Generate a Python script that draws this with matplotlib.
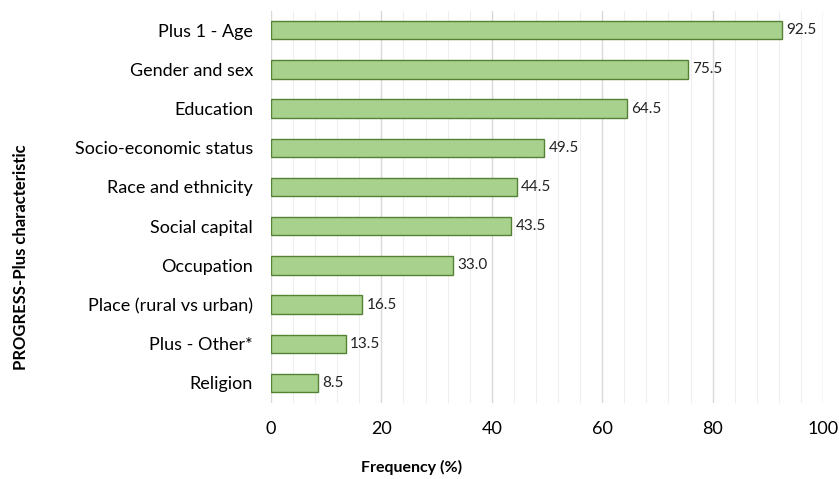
import matplotlib
matplotlib.use("Agg")
import matplotlib.pyplot as plt
from matplotlib.ticker import MultipleLocator

categories = ["Plus 1 - Age", "Gender and sex", "Education", "Socio-economic status",
              "Race and ethnicity", "Social capital", "Occupation",
              "Place (rural vs urban)", "Plus - Other*", "Religion"]
values = [92.5, 75.5, 64.5, 49.5, 44.5, 43.5, 33.0, 16.5, 13.5, 8.5]

plt.rcParams['font.family'] = ['Lato', 'DejaVu Sans']

fig = plt.figure(figsize=(8.39, 4.79), dpi=100)
ax = fig.add_axes([0.323, 0.1595, 0.658, 0.8185])

pos = list(range(len(categories)))
ax.barh(pos, values, height=0.47, color="#A9D18E", edgecolor="#548235", linewidth=1, zorder=3)
for p, v in zip(pos, values):
    ax.text(v + 0.8, p, f"{v:.1f}", va="center", ha="left", fontsize=11, color="#222222")

ax.set_ylim(len(categories) - 0.5, -0.5)
ax.set_yticks(pos)
ax.set_yticklabels(categories, fontsize=13)
ax.set_xlim(0, 100)
ax.xaxis.set_major_locator(MultipleLocator(20))
ax.xaxis.set_minor_locator(MultipleLocator(4))
ax.tick_params(axis="x", labelsize=13, length=0, pad=13, which="both")
ax.tick_params(axis="y", length=0, pad=13)
ax.grid(axis="x", which="major", color="#D9D9D9", linewidth=1, zorder=0)
ax.grid(axis="x", which="minor", color="#EEEEEE", linewidth=0.8, zorder=0)
for s in ax.spines.values():
    s.set_visible(False)

fig.text(0.491, 0.025, "Frequency (%)", fontsize=11.5, fontweight="bold",
         va="center", ha="center")
fig.text(0.025, 0.463, "PROGRESS-Plus characteristic", rotation=90, fontsize=12,
         fontweight="bold", va="center", ha="center")

fig.savefig("out.png", dpi=100)
